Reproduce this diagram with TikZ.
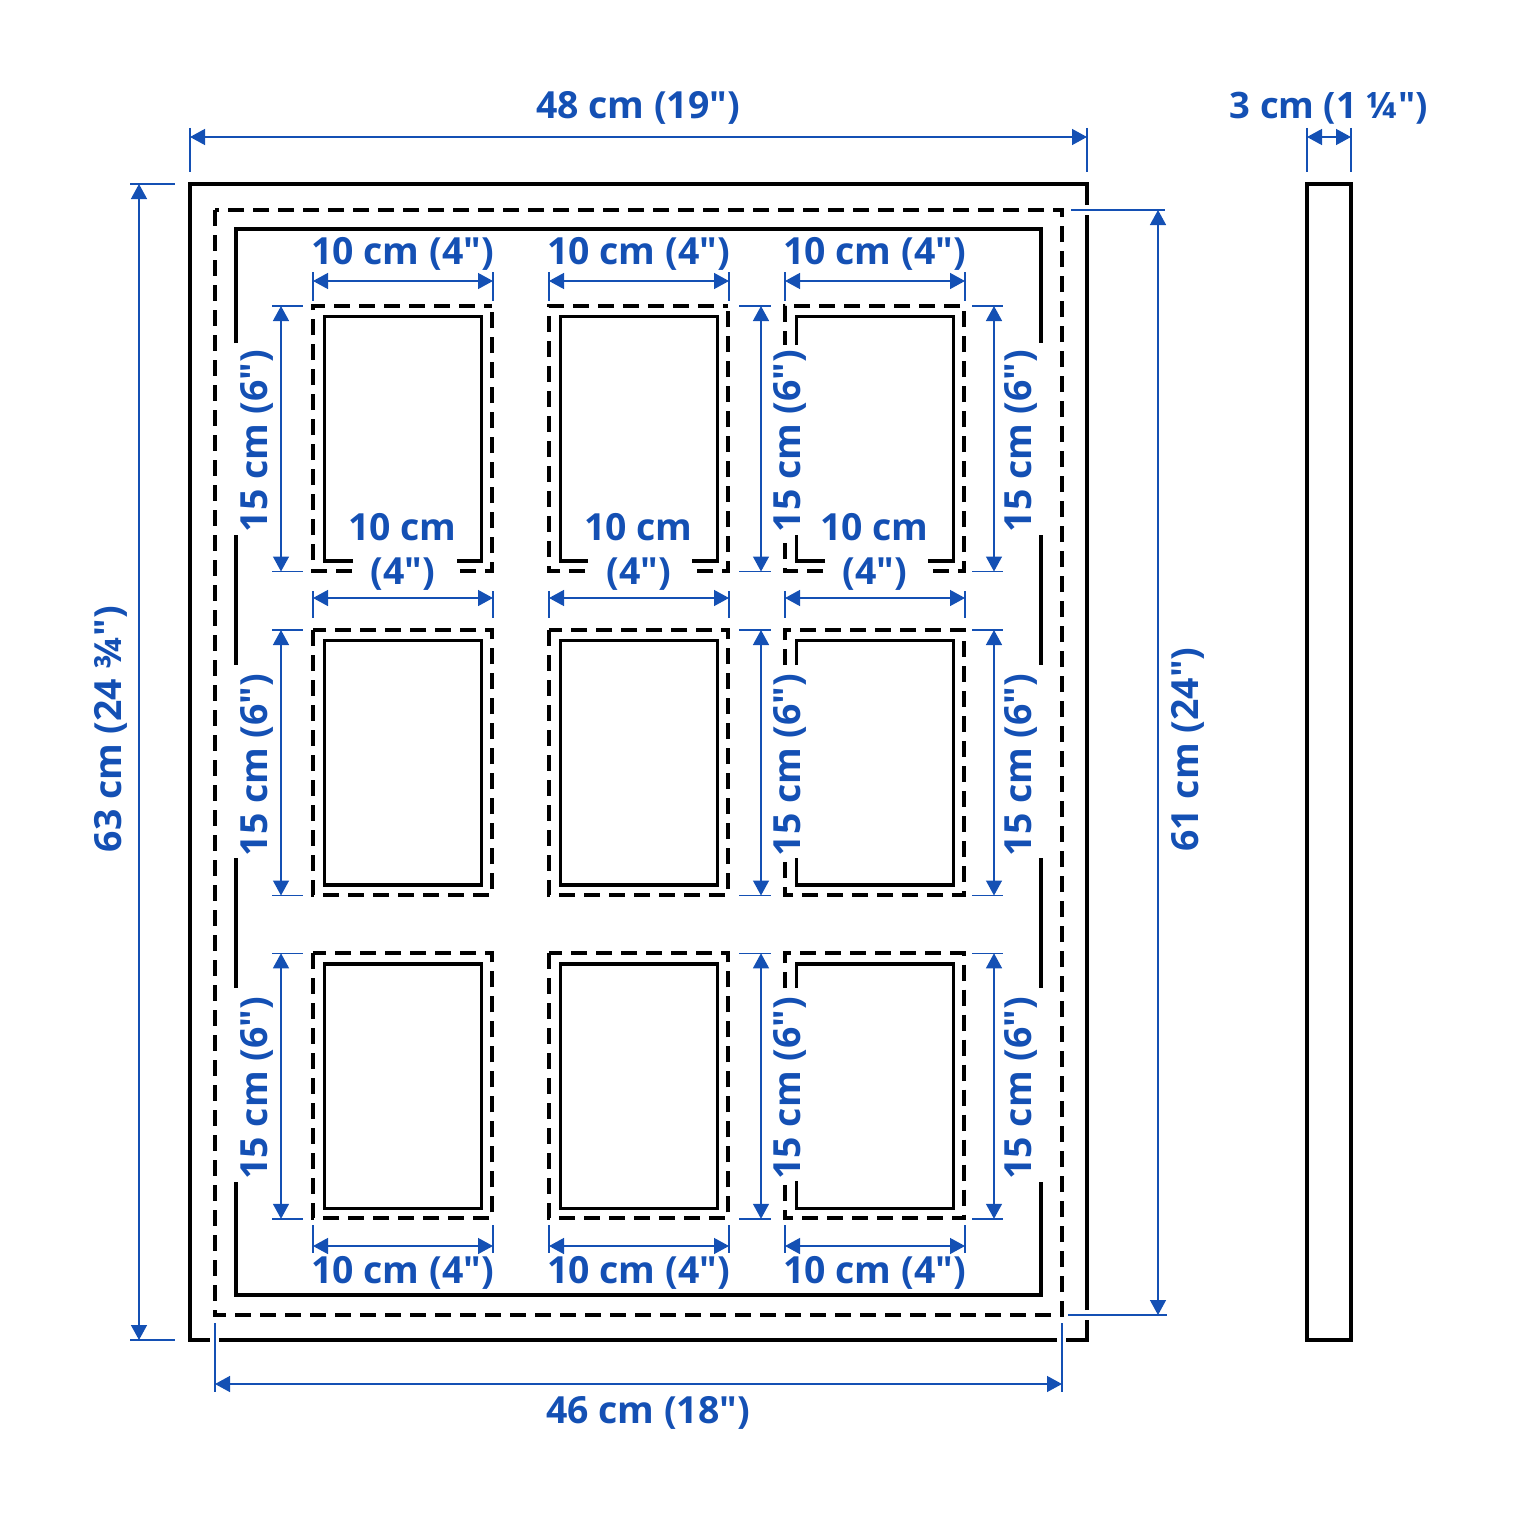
\documentclass[tikz,border=0pt]{standalone}
\usepackage{fontspec}
\newfontfamily\dimfont{Open Sans}[BoldFont={* Bold}]
\usetikzlibrary{arrows.meta}
\definecolor{dimblue}{HTML}{1450B4}
\tikzset{
  x=0.5pt,y=-0.5pt,
  solidline/.style={draw=black,line width=1.8pt,line join=miter},
  dashline/.style={solidline,line width=2pt,dash pattern=on 8pt off 4.5pt},
  extline/.style={draw=dimblue,line width=0.7pt},
  dimline/.style={draw=dimblue,line width=0.7pt,{Triangle[length=7.5pt,width=8pt]}-{Triangle[length=7.5pt,width=8pt]}},
  dimtext/.style={text=dimblue,font=\dimfont\fontsize{18.7}{22}\selectfont\bfseries,inner sep=0pt,anchor=center,yshift=-1.5pt},
  vtext/.style={text=dimblue,font=\dimfont\fontsize{18.7}{22}\selectfont\bfseries,inner sep=0pt,anchor=center,rotate=90,yshift=-1.25pt},
}
\begin{document}
\begin{tikzpicture}
\useasboundingbox (0,0) rectangle (1520,1520);
% outer frame
\draw[solidline] (1087,205) -- (1087,184) -- (190,184) -- (190,1340) -- (210,1340);
\draw[solidline] (219,1340) -- (1057,1340);
\draw[solidline] (1066,1340) -- (1087,1340) -- (1087,1320);
\draw[solidline] (1087,1310) -- (1087,215);
% side view
\draw[solidline] (1307,184) rectangle (1351,1340);
% outer dashed
\draw[dashline] (215,210) rectangle (1062,1315);
% inner frame
\draw[solidline] (236,343) -- (236,229) -- (1041,229) -- (1041,343);
\draw[solidline] (236,1182) -- (236,1295) -- (1041,1295) -- (1041,1182);
\foreach \xx in {236,1041}{
  \draw[solidline] (\xx,535) -- (\xx,665);
  \draw[solidline] (\xx,858) -- (\xx,988);
}
% photo openings, columns 1 and 2, rows 2 and 3
\foreach \a/\b/\c/\d in {313/492/324.5/481.5,549/728/560.5/717.5}{
  \foreach \t in {630,953.3}{
    \draw[dashline] (\a,\t) rectangle (\b,\t+265);
    \draw[solidline] (\c,\t+10.5) rectangle (\d,\t+255);
  }
}
% row 1 columns 1 and 2
\draw[dashline] (352,571) -- (313,571) -- (313,306) -- (492,306);
\draw[dashline] (460,571) -- (492,571) -- (492,306);
\draw[solidline] (353,561) -- (324.5,561) -- (324.5,316.5) -- (481.5,316.5) -- (481.5,561) -- (457,561);
\draw[dashline] (585,571) -- (549,571) -- (549,306) -- (728,306);
\draw[dashline] (697,571) -- (728,571) -- (728,306);
\draw[solidline] (588,561) -- (560.5,561) -- (560.5,316.5) -- (717.5,316.5) -- (717.5,561) -- (692,561);
% column 3, row 1
\draw[dashline] (933,571) -- (964,571) -- (964,306) -- (785,306) -- (785,345);
\draw[dashline] (823,571) -- (785,571) -- (785,535);
\draw[solidline] (796.5,345) -- (796.5,316.5) -- (953.5,316.5) -- (953.5,561) -- (928,561);
\draw[solidline] (825,561) -- (796.5,561) -- (796.5,535);
% column 3, rows 2 and 3
\foreach \t/\u/\v in {630/665/858,953.3/988/1181}{
  \draw[dashline] (785,\u) -- (785,\t) -- (964,\t) -- (964,\t+265) -- (785,\t+265) -- (785,\v);
  \draw[solidline] (796.5,\u) -- (796.5,\t+10.5) -- (953.5,\t+10.5) -- (953.5,\t+255) -- (796.5,\t+255) -- (796.5,\v);
}
% overall dimensions
\draw[extline] (190,128) -- (190,172);
\draw[extline] (1087,128) -- (1087,172);
\draw[dimline] (190,137) -- (1087,137);
\node[dimtext] (w48) at (638,105) {48 cm (19")};
\draw[extline] (1307,128) -- (1307,172);
\draw[extline] (1351,128) -- (1351,172);
\draw[dimline] (1307,137) -- (1351,137);
\node[dimtext,font=\dimfont\fontsize{18.2}{22}\selectfont\bfseries] (w3) at (1329,105) {3 cm (1 ¼")};
\draw[extline] (130,184) -- (175,184);
\draw[extline] (130,1340) -- (175,1340);
\draw[dimline] (139,184) -- (139,1340);
\node[vtext] (h63) at (108,729) {63 cm (24 ¾")};
\draw[extline] (1071,210) -- (1165,210);
\draw[extline] (1068,1315) -- (1167,1315);
\draw[dimline] (1158,210) -- (1158,1315);
\node[vtext] (h61) at (1185,749.5) {61 cm (24")};
\draw[extline] (215,1323) -- (215,1392);
\draw[extline] (1062,1323) -- (1062,1392);
\draw[dimline] (215,1384) -- (1062,1384);
\node[dimtext] (w46) at (648,1410) {46 cm (18")};
% width dimensions
\foreach \a/\b in {313/493,549/729,785/965}{
  \pgfmathsetmacro{\mx}{(\a+\b)/2}
  \draw[extline] (\a,272) -- (\a,301);
  \draw[extline] (\b,272) -- (\b,301);
  \draw[dimline] (\a,281) -- (\b,281);
  \node[dimtext] at (\mx-0.5,251) {10 cm (4")};
  \draw[extline] (\a,591) -- (\a,618);
  \draw[extline] (\b,591) -- (\b,618);
  \draw[dimline] (\a,598) -- (\b,598);
  \node[dimtext] at (\mx-0.5,524) {10 cm};
  \node[dimtext] at (\mx-0.5,571) {(4")};
  \draw[extline] (\a,1225) -- (\a,1253);
  \draw[extline] (\b,1225) -- (\b,1253);
  \draw[dimline] (\a,1246) -- (\b,1246);
  \node[dimtext] at (\mx-0.5,1270) {10 cm (4")};
}
% height dimensions
\foreach \x/\e/\f/\l in {281/272/303/254,761/739/771/787,994/972/1003/1018}{
  \foreach \t in {306,630,953.3}{
    \draw[extline] (\e,\t) -- (\f,\t);
    \draw[extline] (\e,\t+265.5) -- (\f,\t+265.5);
    \draw[dimline] (\x,\t) -- (\x,\t+265.5);
    \node[vtext] at (\l,\t+135) {15 cm (6")};
  }
}
\end{tikzpicture}
\end{document}
